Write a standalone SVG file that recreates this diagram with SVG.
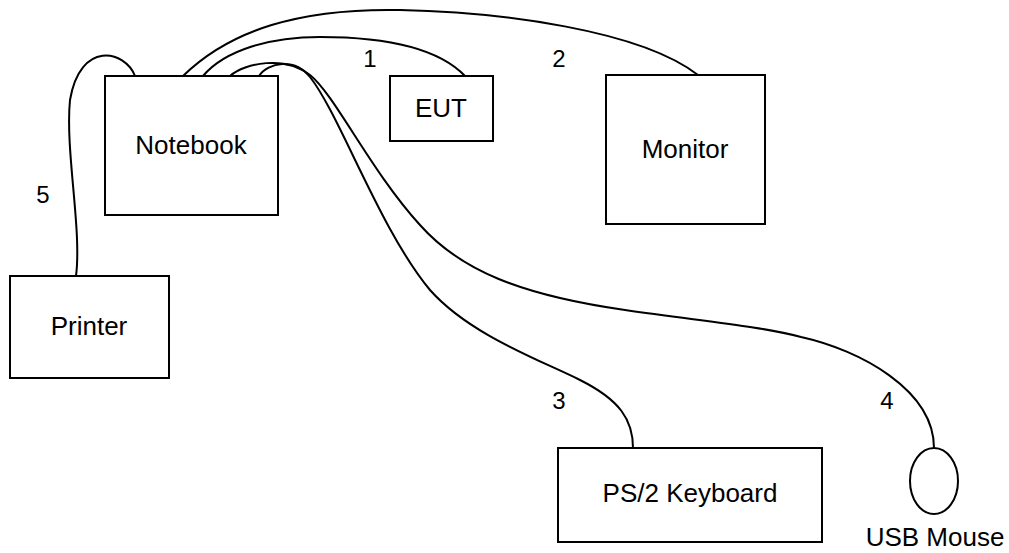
<svg xmlns="http://www.w3.org/2000/svg" width="1009" height="553" viewBox="0 0 1009 553">
<style>
.box{fill:#fff;stroke:#000;stroke-width:2}
.cable{fill:none;stroke:#000;stroke-width:2}
text{font-family:"Liberation Sans",Arial,sans-serif;font-size:26px;fill:#000}
.n{font-size:24px}
.c{text-anchor:middle}
</style>
<rect width="1009" height="553" fill="#fff"/>
<g id="connectors">
<path class="cable" d="M135,76 C125,50 80,40 70,100 C65,150 82,230 76,276"/>
<path class="cable" d="M183,76 C230,30 300,8 400,10 C500,12 640,30 698,75"/>
<path class="cable" d="M203,76 C225,50 270,37 320,37 C390,37 440,50 465,76"/>
<path class="cable" d="M259,76 C268,62 295,58 310,77 C340,115 380,230 430,290 C470,335 540,360 580,380 C620,400 633,420 633,448"/>
<path class="cable" d="M230,76 C245,63 285,55 310,75 C335,95 370,170 420,225 C460,270 520,295 625,310 C700,321 760,326 801,337 C860,350 934,390 934,448"/>
<text class="c n" x="370" y="67">1</text>
<text class="c n" x="559" y="67">2</text>
<text class="c n" x="559" y="409">3</text>
<text class="c n" x="887" y="409">4</text>
<text class="c n" x="43" y="203">5</text>
</g>
<g id="notebook">
<rect class="box" x="105" y="76" width="173" height="139"/>
<text class="c" x="191" y="154">Notebook</text>
</g>
<g id="eut">
<rect class="box" x="390" y="76" width="103" height="65"/>
<text class="c" x="441" y="117">EUT</text>
</g>
<g id="monitor">
<rect class="box" x="606" y="75" width="159" height="149"/>
<text class="c" x="685" y="158">Monitor</text>
</g>
<g id="printer">
<rect class="box" x="10" y="276" width="159" height="102"/>
<text class="c" x="89" y="335">Printer</text>
</g>
<g id="keyboard">
<rect class="box" x="558" y="448" width="264" height="94"/>
<text class="c" x="690" y="502">PS/2 Keyboard</text>
</g>
<g id="mouse">
<ellipse class="box" cx="934" cy="481" rx="24" ry="33"/>
<text class="c" x="935" y="546">USB Mouse</text>
</g>
</svg>
